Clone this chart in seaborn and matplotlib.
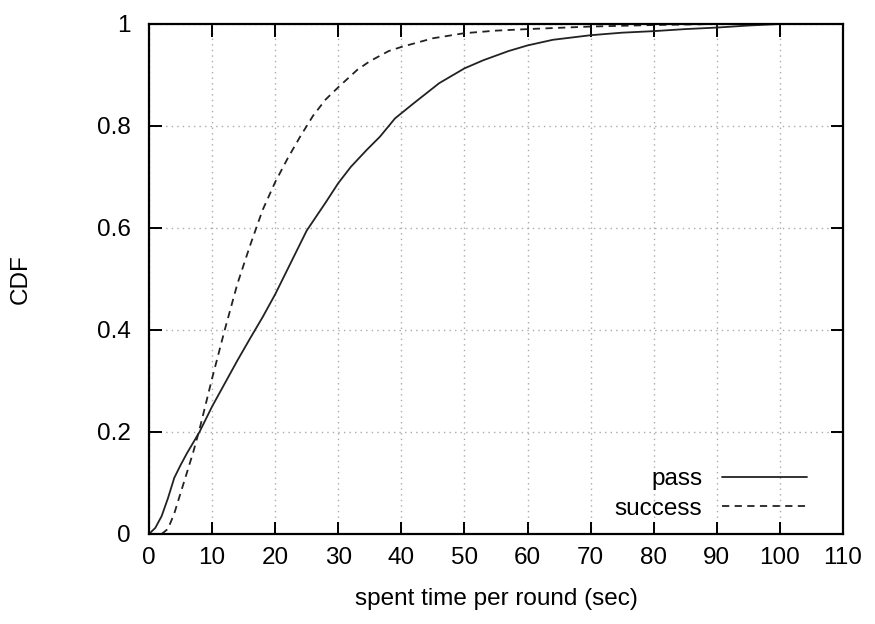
import matplotlib
matplotlib.use("Agg")
import matplotlib.pyplot as plt
import seaborn as sns
import pandas as pd

pass_x = [0, 1, 2, 3, 4, 5, 6, 8, 10, 12, 14, 16, 18, 20, 22, 25, 28, 30, 32, 34.5, 36.6,
          38, 39, 42, 46, 50, 53, 57, 60, 64, 70, 75, 80, 85, 90, 95, 100]
pass_y = [0, 0.012, 0.035, 0.07, 0.11, 0.135, 0.158, 0.2, 0.25, 0.295, 0.34, 0.383, 0.425,
          0.47, 0.52, 0.595, 0.65, 0.688, 0.72, 0.753, 0.779, 0.8, 0.815, 0.845, 0.884,
          0.913, 0.929, 0.947, 0.958, 0.969, 0.978, 0.983, 0.986, 0.99, 0.993, 0.997, 1.0]
success_x = [0, 2, 3, 4, 5, 6, 7, 8, 10, 12, 14, 16, 18, 20, 22, 24, 26, 28, 30, 33, 35,
             38, 40, 45, 50, 55, 60, 70, 80, 90, 100]
success_y = [0, 0.0, 0.01, 0.04, 0.08, 0.12, 0.16, 0.205, 0.305, 0.4, 0.49, 0.565, 0.635,
             0.69, 0.737, 0.78, 0.82, 0.852, 0.876, 0.91, 0.927, 0.947, 0.955, 0.972, 0.982,
             0.987, 0.99, 0.995, 0.998, 1.0, 1.0]
series_names = ["pass", "success"]
x_ticks = [0, 10, 20, 30, 40, 50, 60, 70, 80, 90, 100, 110]
y_ticks = [0, 0.2, 0.4, 0.6, 0.8, 1.0]
y_ticklabels = ["0", "0.2", "0.4", "0.6", "0.8", "1"]

sns.set_theme(style="white")
plt.rcParams["font.family"] = ["Liberation Sans", "DejaVu Sans"]
plt.rcParams["text.color"] = "black"
plt.rcParams["axes.labelcolor"] = "black"
plt.rcParams["xtick.labelcolor"] = "black"
plt.rcParams["ytick.labelcolor"] = "black"

FS = 17.5
fig = plt.figure(figsize=(8.75, 6.24), dpi=100)
ax = fig.add_axes([149 / 875, 1 - 534 / 624, (843 - 149) / 875, (534 - 24) / 624])

df_pass = pd.DataFrame({"t": pass_x, "cdf": pass_y})
df_succ = pd.DataFrame({"t": success_x, "cdf": success_y})
sns.lineplot(data=df_pass, x="t", y="cdf", ax=ax, color="#222222", lw=1.3,
             label=series_names[0])
sns.lineplot(data=df_succ, x="t", y="cdf", ax=ax, color="#222222", lw=1.3,
             linestyle=(0, (4, 3)), label=series_names[1])

ax.set_xlim(0, 110)
ax.set_ylim(0, 1)
ax.set_xticks(x_ticks)
ax.set_xticklabels([str(v) for v in x_ticks])
ax.set_yticks(y_ticks)
ax.set_yticklabels(y_ticklabels)
ax.grid(True, color="#aaaaaa", linestyle=(0, (1, 3)), lw=1)
for s in ax.spines.values():
    s.set_color("black")
    s.set_linewidth(1.6)
ax.tick_params(axis="both", direction="in", length=9, width=1.4, color="black",
               labelsize=FS, labelcolor="black",
               top=True, right=True, bottom=True, left=True)
ax.tick_params(axis="x", pad=9)
ax.tick_params(axis="y", pad=13)
ax.set_xlabel("spent time per round (sec)", fontsize=FS, color="black")
ax.set_ylabel("CDF", fontsize=FS, color="black")
ax.xaxis.set_label_coords(0.5, -0.106)
ax.yaxis.set_label_coords(-0.169, 0.5)

leg = ax.legend(loc="lower right", frameon=False, markerfirst=False, fontsize=FS,
                handlelength=3.5, handletextpad=0.8, labelspacing=0.3,
                borderpad=0, borderaxespad=0, bbox_to_anchor=(0.948, 0.028))
for t in leg.get_texts():
    t.set_ha("right")
    t.set_color("black")

fig.savefig("out.png", dpi=100)
